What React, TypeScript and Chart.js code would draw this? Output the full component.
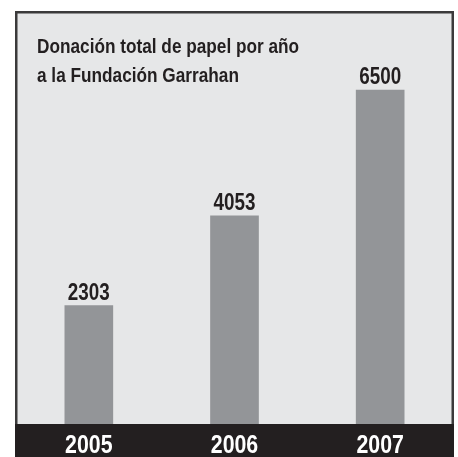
import React, { useEffect, useRef } from "react";
import { Chart, registerables } from "chart.js";

Chart.register(...registerables);

const years = ["2005", "2006", "2007"];
const donations = [2303, 4053, 6500];
const titleLines = ["Donación total de papel por año", "a la Fundación Garrahan"];
const yMax = 8000;

const FONT = '"Liberation Sans", Arial, sans-serif';
const NARROW = 0.82;
const DARK = "#231f20";

function narrowText(ctx: any, text: string, x: number, y: number) {
  ctx.save();
  ctx.translate(x, y);
  ctx.scale(NARROW, 1);
  ctx.fillText(text, 0, 0);
  ctx.restore();
}

const panelPlugin = {
  id: "panel",
  beforeDraw(chart: any) {
    const ctx = chart.ctx;
    const x = chart.scales.x;
    ctx.save();
    ctx.fillStyle = "#e6e7e8";
    ctx.fillRect(15, 11, 439, 446);
    ctx.strokeStyle = "#3b3a3b";
    ctx.lineWidth = 2.5;
    ctx.strokeRect(16.25, 12.25, 436.5, 450);
    ctx.fillStyle = DARK;
    ctx.fillRect(15, x.top, 439, x.bottom - x.top + 1);
    ctx.restore();
  },
  afterDraw(chart: any) {
    const ctx = chart.ctx;
    const xs = chart.scales.x;
    ctx.save();
    ctx.textBaseline = "alphabetic";
    ctx.fillStyle = DARK;
    ctx.font = `bold 21px ${FONT}`;
    ctx.textAlign = "left";
    titleLines.forEach((line, i) => narrowText(ctx, line, 37, 53 + i * 28.5));
    ctx.font = `bold 23px ${FONT}`;
    ctx.textAlign = "center";
    const meta = chart.getDatasetMeta(0);
    meta.data.forEach((bar: any, i: number) => {
      narrowText(ctx, String(donations[i]), bar.x, bar.y - 6);
    });
    ctx.fillStyle = "#ffffff";
    ctx.font = `bold 26px ${FONT}`;
    xs.ticks.forEach((_t: any, i: number) => {
      narrowText(ctx, String(xs.getLabelForValue(i)), xs.getPixelForTick(i), 452.5);
    });
    ctx.restore();
  },
};

export default function App() {
  const ref = useRef<HTMLCanvasElement>(null);
  useEffect(() => {
    if (!ref.current) return;
    const chart = new Chart(ref.current, {
      type: "bar",
      data: {
        labels: years,
        datasets: [
          {
            data: donations,
            backgroundColor: "#939598",
            borderWidth: 0,
            barThickness: 48,
          },
        ],
      },
      options: {
        responsive: false,
        animation: false,
        layout: { padding: { top: 13, left: 16, right: 5, bottom: 0 } },
        plugins: { legend: { display: false }, tooltip: { enabled: false }, title: { display: false } },
        scales: {
          x: {
            grid: { display: false, drawTicks: false },
            border: { display: false },
            ticks: { display: false },
            afterFit: (scale: any) => {
              scale.height = 33;
            },
          },
          y: { display: false, min: 0, max: yMax },
        },
      },
      plugins: [panelPlugin],
    });
    return () => chart.destroy();
  }, []);
  return (
    <div style={{ position: "absolute", left: 0, top: 0, width: 458, height: 457 }}>
      <canvas ref={ref} width={458} height={457} style={{ display: "block" }} />
    </div>
  );
}
